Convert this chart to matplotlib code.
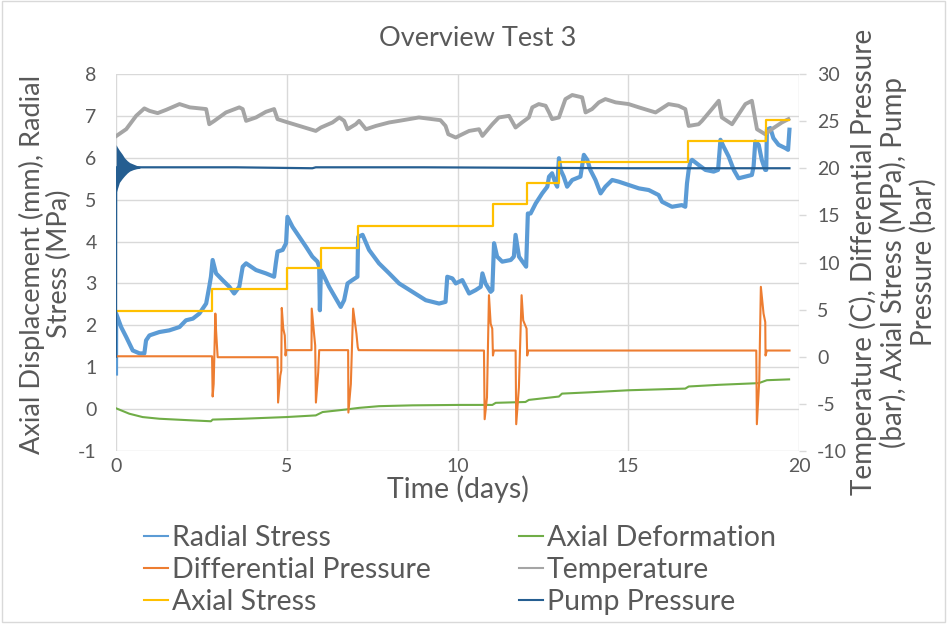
import matplotlib
matplotlib.use("Agg")
import matplotlib.pyplot as plt
from matplotlib.patches import Rectangle

plt.rcParams['font.family'] = ['Lato', 'DejaVu Sans']
plt.rcParams['axes.unicode_minus'] = False

# ---------------- data ----------------
radial_days = [0.0, 0.005, 0.15, 0.30, 0.49, 0.69, 0.83, 0.88, 0.98, 1.27, 1.56, 1.86, 2.05, 2.25, 2.44,
               2.64, 2.73, 2.78, 2.83, 2.93, 3.12, 3.32, 3.46, 3.61, 3.71, 3.81, 4.10, 4.39, 4.63,
               4.68, 4.73, 4.88, 4.98, 5.02, 5.17, 5.37, 5.56, 5.75, 5.90, 5.95, 5.97, 6.00, 6.10,
               6.24, 6.44, 6.58, 6.68, 6.78, 6.92, 7.07, 7.09, 7.22, 7.41, 7.70, 8.00, 8.29, 8.68,
               9.07, 9.46, 9.65, 9.70, 9.85, 9.95, 10.14, 10.34, 10.53, 10.68, 10.73, 10.82, 10.97,
               11.02, 11.07, 11.16, 11.31, 11.56, 11.65, 11.70, 11.80, 11.94, 12.01, 12.06, 12.14,
               12.29, 12.48, 12.63, 12.68, 12.77, 12.87, 12.92, 12.97, 13.02, 13.11, 13.21, 13.36,
               13.60, 13.70, 13.80, 13.89, 14.04, 14.19, 14.33, 14.53, 14.72, 15.01, 15.31, 15.60,
               15.89, 15.99, 16.28, 16.57, 16.67, 16.72, 16.77, 16.82, 16.87, 17.06, 17.26, 17.50,
               17.63, 17.70, 17.79, 17.94, 18.09, 18.23, 18.43, 18.62, 18.67, 18.72, 18.82, 18.91,
               19.01, 19.04, 19.06, 19.16, 19.25, 19.40, 19.60, 19.68, 19.72]
radial_stress = [0.85, 2.28, 1.96, 1.72, 1.40, 1.33, 1.33, 1.64, 1.76, 1.84, 1.88, 1.96, 2.12, 2.16, 2.28,
                 2.52, 2.92, 3.16, 3.56, 3.24, 3.08, 2.92, 2.76, 2.92, 3.40, 3.48, 3.32, 3.24, 3.16,
                 3.48, 3.76, 3.80, 3.96, 4.59, 4.35, 4.11, 3.88, 3.64, 3.52, 3.40, 2.36, 3.32, 3.16,
                 2.92, 2.64, 2.44, 2.60, 3.00, 3.08, 3.16, 4.11, 4.16, 3.80, 3.48, 3.24, 3.00, 2.80,
                 2.60, 2.52, 2.56, 3.16, 3.12, 3.00, 3.08, 2.76, 2.84, 2.92, 3.24, 3.00, 2.80,
                 2.84, 3.96, 3.64, 3.52, 3.56, 3.64, 4.16, 3.64, 3.48, 3.40, 4.67, 4.67,
                 4.91, 5.15, 5.31, 5.55, 5.63, 5.39, 5.31, 5.99, 5.71, 5.55, 5.31, 5.47,
                 5.55, 6.07, 5.95, 5.71, 5.47, 5.15, 5.31, 5.47, 5.43, 5.35, 5.27, 5.23,
                 5.11, 4.95, 4.83, 4.87, 4.83, 5.39, 5.71, 5.91, 5.95, 5.83, 5.71, 5.67,
                 5.71, 6.43, 6.27, 6.03, 5.71, 5.51, 5.55, 5.59, 5.79, 6.39, 6.31, 5.95,
                 5.71, 5.71, 6.67, 6.71, 6.47, 6.31, 6.23, 6.19, 6.67]

deform_days = [0.0, 0.39, 0.78, 1.27, 1.76, 2.25, 2.78, 2.83, 3.71, 4.98, 5.85, 6.05, 6.73, 7.12,
               7.70, 8.68, 10.04, 11.02, 11.12, 11.99, 12.09, 12.97, 13.06, 13.85, 15.01, 16.67,
               16.77, 17.65, 18.82, 19.06, 19.71]
axial_deformation = [0.02, -0.11, -0.19, -0.23, -0.25, -0.27, -0.29, -0.25, -0.23, -0.19, -0.15, -0.07,
                     -0.01, 0.03, 0.07, 0.09, 0.10, 0.10, 0.15, 0.17, 0.22, 0.30, 0.37, 0.40, 0.45,
                     0.49, 0.54, 0.58, 0.62, 0.69, 0.71]

diff_days = [0.0, 2.813, 2.830, 2.860, 2.909, 2.930, 2.959, 2.977,
             4.731, 4.746, 4.810, 4.839, 4.854, 4.898, 4.942, 4.965, 4.985,
             5.725, 5.731, 5.804, 5.833, 5.854, 5.921, 5.950, 6.029,
             6.798, 6.805, 6.877, 6.944, 7.041, 7.079, 7.105,
             10.775, 10.795, 10.863, 10.921, 10.971, 11.018, 11.038, 11.067,
             11.702, 11.719, 11.798, 11.877, 11.924, 12.023, 12.041, 12.070,
             18.749, 18.766, 18.836, 18.883, 18.962, 19.012, 19.020, 19.058, 19.722]
differential_pressure = [0.05, 0.05, -4.22, -2.89, 4.58, 2.80, 1.01, -0.05,
                         -0.05, -4.86, -2.01, -1.47, 5.18, 2.98, 2.26, 0.13, 0.70,
                         0.70, 5.11, 2.26, 1.20, -4.86, -1.65, 0.70, 0.70,
                         0.70, -5.92, -2.89, 5.11, 2.44, 1.01, 0.70,
                         0.66, -6.63, -4.32, 6.53, 3.51, 2.98, 0.13, 0.66,
                         0.66, -7.16, -3.26, 6.53, 3.86, 2.98, 0.13, 0.66,
                         0.66, -7.16, -2.54, 7.42, 4.58, 3.68, 0.13, 0.66, 0.66]

temp_days = [0.0, 0.30, 0.59, 0.83, 0.98, 1.22, 1.47, 1.86, 2.16, 2.64, 2.73, 2.88, 3.22, 3.61, 3.71,
             3.81, 4.10, 4.39, 4.63, 4.73, 4.98, 5.37, 5.85, 6.00, 6.34, 6.54, 6.68, 6.78, 7.02,
             7.12, 7.32, 7.61, 8.00, 8.29, 8.87, 9.26, 9.50, 9.65, 9.73, 9.95, 10.04, 10.34, 10.63,
             10.73, 11.02, 11.21, 11.51, 11.70, 11.89, 12.09, 12.19, 12.38, 12.58, 12.68, 12.77,
             12.97, 13.16, 13.36, 13.65, 13.75, 13.94, 14.14, 14.33, 14.63, 15.01, 15.31, 15.80,
             16.18, 16.47, 16.67, 16.77, 17.06, 17.16, 17.45, 17.65, 17.74, 18.04, 18.43, 18.62,
             18.77, 19.01, 19.20, 19.50, 19.69]
temperature = [23.4, 24.15, 25.56, 26.35, 26.09, 25.85, 26.20, 26.81, 26.46, 26.28, 24.67, 25.03, 25.92,
               26.46, 26.28, 25.03, 25.39, 25.99, 26.28, 25.21, 24.92, 24.49, 23.96, 24.32, 24.86,
               25.39, 25.03, 24.14, 24.67, 25.03, 24.14, 24.49, 24.86, 25.03, 25.39, 25.21, 25.10,
               24.49, 23.61, 23.26, 23.43, 23.96, 24.14, 23.43, 24.67, 25.39, 25.56, 24.32, 24.86,
               25.39, 26.46, 26.81, 26.63, 25.92, 25.21, 25.39, 27.34, 27.77, 27.52, 25.92, 26.28,
               26.99, 27.34, 26.99, 26.81, 26.46, 25.92, 26.81, 26.63, 26.28, 24.49, 24.67, 25.03,
               26.28, 27.16, 25.39, 24.67, 26.81, 27.16, 24.14, 23.61, 24.14, 24.86, 25.21]

axial_days = [0.0, 2.81, 2.81, 5.0, 5.0, 6.0, 6.0, 7.09, 7.09, 11.04, 11.04, 12.04, 12.04,
              12.97, 12.97, 16.75, 16.75, 19.02, 19.02, 19.72]
axial_stress = [4.86, 4.86, 7.14, 7.14, 9.38, 9.38, 11.58, 11.58, 13.9, 13.9, 16.2, 16.2, 18.4,
                18.4, 20.7, 20.7, 22.9, 22.9, 25.1, 25.1]

pump_days = [0.0, 0.005, 0.70, 3.5, 5.75, 5.85, 9.0, 15.0, 19.72]
pump_pressure = [0.0, 20.1, 20.1, 20.1, 20.0, 20.1, 20.1, 20.0, 20.0]
# envelope of the start-up oscillation of the pump pressure
pump_env_days = [0.005, 0.03, 0.10, 0.18, 0.25, 0.33, 0.40, 0.50, 0.60, 0.70]
pump_env_high = [22.5, 22.3, 21.9, 21.5, 21.1, 20.8, 20.6, 20.45, 20.3, 20.2]
pump_env_low = [17.4, 17.7, 18.5, 18.9, 19.2, 19.5, 19.7, 19.85, 19.95, 20.0]

legend_col1 = ['Radial Stress', 'Differential Pressure', 'Axial Stress']
legend_col2 = ['Axial Deformation', 'Temperature', 'Pump Pressure']
colors = {'Radial Stress': '#5B9BD5', 'Differential Pressure': '#ED7D31', 'Axial Stress': '#FFC000',
          'Axial Deformation': '#70AD47', 'Temperature': '#A5A5A5', 'Pump Pressure': '#255E91'}

# ---------------- figure ----------------
W, H = 947, 624
fig = plt.figure(figsize=(W / 100, H / 100), dpi=100)
fig.patches.append(Rectangle((0.002, 0.004), 0.996, 0.994, transform=fig.transFigure,
                             fill=False, edgecolor='#D9D9D9', lw=1))
ax = fig.add_axes([116 / W, 1 - 451 / H, (799 - 116) / W, (451 - 74) / H])
ax2 = ax.twinx()

txt = '#595959'
grid = '#D9D9D9'

l_rs, = ax.plot(radial_days, radial_stress, color=colors['Radial Stress'], lw=3.0)
l_ad, = ax.plot(deform_days, axial_deformation, color=colors['Axial Deformation'], lw=1.5)

ax2.fill_between(pump_env_days, pump_env_low, pump_env_high, color=colors['Pump Pressure'], lw=0)
l_t, = ax2.plot(temp_days, temperature, color=colors['Temperature'], lw=2.8)
l_dp, = ax2.plot(diff_days, differential_pressure, color=colors['Differential Pressure'], lw=1.5)
l_as, = ax2.plot(axial_days, axial_stress, color=colors['Axial Stress'], lw=1.6)
l_pp, = ax2.plot(pump_days, pump_pressure, color=colors['Pump Pressure'], lw=1.6)

ax.set_xlim(0, 20)
ax.set_ylim(-1, 8)
ax2.set_ylim(-10, 30)
ax.set_xticks([0, 5, 10, 15, 20])
ax.set_yticks(range(-1, 9))
ax2.set_yticks(range(-10, 31, 5))

for a in (ax, ax2):
    for s in a.spines.values():
        s.set_visible(False)
ax.grid(True, color=grid, lw=1)
ax.set_axisbelow(True)
ax.tick_params(axis='x', length=0, labelsize=14, colors=txt, pad=5)
ax.tick_params(axis='y', length=0, labelsize=14, colors=txt, pad=14)
ax2.tick_params(axis='y', length=5, width=1, color=grid, labelsize=14, labelcolor=txt, pad=8)

ax.set_xlabel('Time (days)', fontsize=20.5, color=txt, labelpad=0)

fig.text(45 / W, 1 - 264 / H, 'Axial Displacement (mm), Radial\nStress (MPa)', rotation=90,
         ha='center', va='center', fontsize=19.5, color=txt, linespacing=1.1)
fig.text(893 / W, 1 - 262 / H, 'Temperature (C), Differential Pressure\n(bar), Axial Stress (MPa), Pump\nPressure (bar)',
         rotation=90, ha='center', va='center', fontsize=20, color=txt, linespacing=1.1)
fig.text(478 / W, 1 - 38 / H, 'Overview Test 3', ha='center', va='center', fontsize=19.5, color=txt)

leg_kw = dict(loc='upper left', frameon=False, fontsize=20.5, handlelength=0.85,
              handletextpad=0.12, labelspacing=0.21, borderaxespad=0, borderpad=0)
leg1 = fig.legend([l_rs, l_dp, l_as], legend_col1, bbox_to_anchor=(144 / W, 1 - 525 / H), **leg_kw)
leg2 = fig.legend([l_ad, l_t, l_pp], legend_col2, bbox_to_anchor=(519 / W, 1 - 525 / H), **leg_kw)
for leg in (leg1, leg2):
    for t in leg.get_texts():
        t.set_color(txt)
    for lh in leg.get_lines():
        lh.set_linewidth(1.5)

fig.savefig('out.png', dpi=100)
